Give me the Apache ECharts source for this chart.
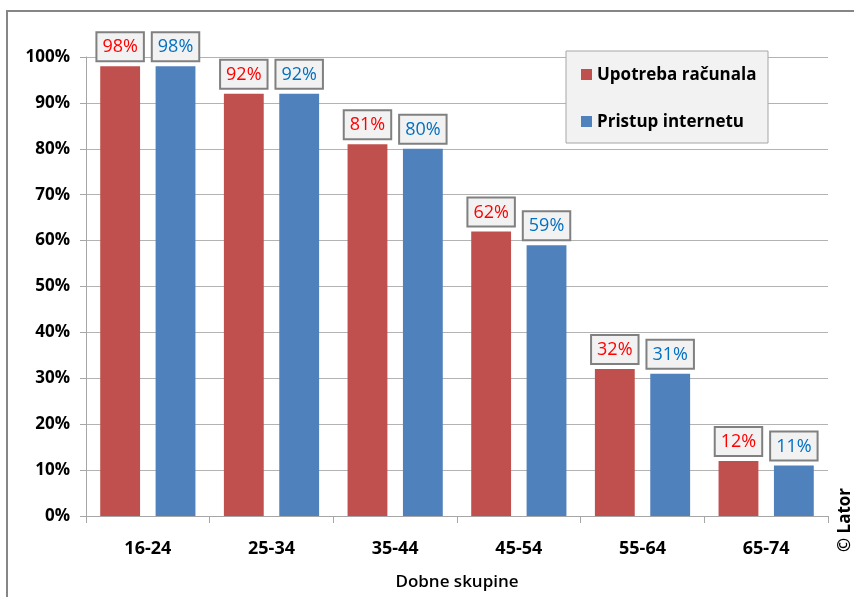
<!DOCTYPE html>
<html><head><meta charset="utf-8">
<script src="https://cdn.jsdelivr.net/npm/echarts@6/dist/echarts.min.js"></script>
<style>html,body{margin:0;padding:0;background:#fff}#c{width:854px;height:597px}</style>
</head><body><div id="c"></div>
<script>
const categories = ['16-24','25-34','35-44','45-54','55-64','65-74'];
const racunala = [98,92,81,62,32,12];
const internet = [98,92,80,59,31,11];
const seriesNames = ['Upotreba računala','Pristup internetu'];
const yTicks = [0,10,20,30,40,50,60,70,80,90,100];

const FONT = '"Open Sans", "Noto Sans", sans-serif';
const chart = echarts.init(document.getElementById('c'));
function lbl(color){
  return {show:true,position:'top',distance:6,formatter:'{c}%',color:color,
    fontFamily:FONT,fontWeight:'normal',fontSize:18,lineHeight:20,backgroundColor:'#f2f2f2',
    borderColor:'#808080',borderWidth:2,padding:[4,5,3,5]};
}
chart.setOption({
  animation:false,
  grid:{left:86,right:26,top:57,bottom:81,containLabel:false,outerBoundsMode:'none'},
  legend:{show:false},
  graphic:[
    {type:'rect',shape:{x:7,y:11,width:900,height:700},style:{fill:'none',stroke:'#868686',lineWidth:2},z:-10},
    {type:'rect',shape:{x:566,y:51,width:202,height:92},style:{fill:'#f2f2f2',stroke:'#a6a6a6',lineWidth:1},z:10},
    {type:'rect',shape:{x:581,y:69,width:11,height:11},style:{fill:'#c0504d'},z:11},
    {type:'text',x:597,y:75,style:{text:seriesNames[0],fill:'#000',font:'bold 17px '+FONT,textVerticalAlign:'middle'},z:11},
    {type:'rect',shape:{x:581,y:116,width:11,height:11},style:{fill:'#4f81bd'},z:11},
    {type:'text',x:597,y:122,style:{text:seriesNames[1],fill:'#000',font:'bold 17px '+FONT,textVerticalAlign:'middle'},z:11},
    {type:'text',x:845,y:520,rotation:Math.PI/2,style:{text:'© Lator',fill:'#000',font:'bold 17px '+FONT,textAlign:'center',textVerticalAlign:'middle'},z:11}
  ],
  xAxis:{type:'category',data:categories,name:'Dobne skupine',nameLocation:'middle',nameGap:58,
    nameTextStyle:{fontFamily:FONT,fontWeight:600,fontSize:17,color:'#000'},
    axisLine:{lineStyle:{color:'#a6a6a6',width:1}},
    axisTick:{show:true,length:7,lineStyle:{color:'#a6a6a6'},alignWithLabel:false},
    axisLabel:{fontFamily:FONT,fontWeight:'bold',fontSize:18,color:'#000',margin:24}},
  yAxis:{type:'value',min:0,max:100,interval:10,
    axisLine:{show:true,lineStyle:{color:'#a6a6a6'}},
    axisTick:{show:true,length:6,lineStyle:{color:'#a6a6a6'}},
    splitLine:{lineStyle:{color:'#b3b3b3'}},
    axisLabel:{fontFamily:FONT,fontWeight:'bold',fontSize:17,color:'#000',margin:16,
      formatter:v=>yTicks.includes(v)?v+'%':''}},
  series:[
    {name:seriesNames[0],type:'bar',data:racunala,itemStyle:{color:'#c0504d'},barGap:'39%',barCategoryGap:'23%',label:lbl('#ff0000')},
    {name:seriesNames[1],type:'bar',data:internet,itemStyle:{color:'#4f81bd'},label:lbl('#0070c0')}
  ]
});
</script></body></html>
